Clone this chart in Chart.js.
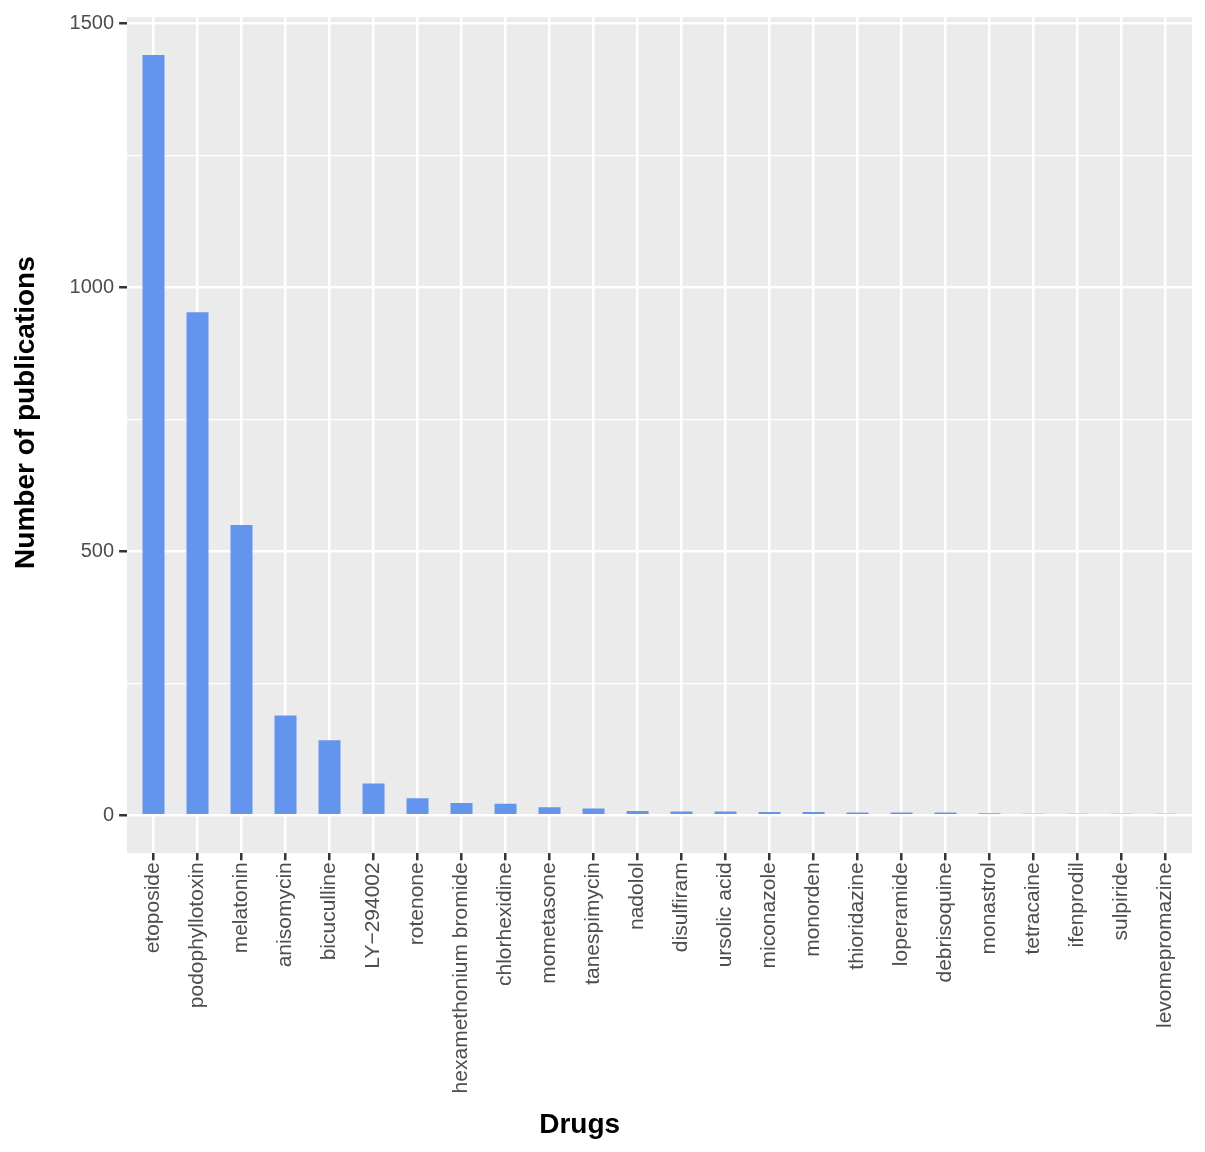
<!DOCTYPE html>
<html>
<head>
<meta charset="utf-8">
<script src="https://cdn.jsdelivr.net/npm/chart.js@4.4.1/dist/chart.umd.min.js"></script>
<style>
  html, body { margin: 0; padding: 0; background: #ffffff; }
  #wrap { width: 1205px; height: 1152px; position: relative; }
</style>
</head>
<body>
<div id="wrap"><canvas id="c"></canvas></div>
<script>
const drugs = ['etoposide', 'podophyllotoxin', 'melatonin', 'anisomycin', 'bicuculline', 'LY\u2212294002',
  'rotenone', 'hexamethonium bromide', 'chlorhexidine', 'mometasone', 'tanespimycin', 'nadolol',
  'disulfiram', 'ursolic acid', 'miconazole', 'monorden', 'thioridazine', 'loperamide', 'debrisoquine',
  'monastrol', 'tetracaine', 'ifenprodil', 'sulpiride', 'levomepromazine'];
const publications = [1440, 953, 550, 189, 142, 60, 32, 23, 22, 15, 13, 8,
  7, 7, 6, 6, 5, 5, 5, 4, 3, 3, 3, 3];
const yMajorTicks = [0, 500, 1000, 1500];
const yMinorTicks = [250, 750, 1250];
const yRange = [-72, 1512];
const xTitle = 'Drugs';
const yTitle = 'Number of publications';

const FONT = 'Liberation Sans, Arial, sans-serif';
const titleFont = { family: FONT, size: 28, weight: 'bold' };

const panelBg = {
  id: 'panelBg',
  beforeDraw(chart) {
    const { ctx, chartArea: a } = chart;
    ctx.save();
    ctx.fillStyle = '#EBEBEB';
    ctx.fillRect(a.left, a.top, a.right - a.left, a.bottom - a.top);
    ctx.restore();
  }
};

// Axis titles drawn in the reserved title space, positioned like the reference
const axisTitles = {
  id: 'axisTitles',
  afterDraw(chart) {
    const { ctx, chartArea: a, scales } = chart;
    ctx.save();
    ctx.fillStyle = '#000000';
    ctx.font = 'bold ' + titleFont.size + 'px ' + FONT;
    ctx.textAlign = 'center';
    ctx.textBaseline = 'middle';
    const xs = scales.x;
    const xTitleY = xs.bottom - titleFont.size * 0.6;
    ctx.fillText(xTitle, a.left + (a.right - a.left) * 0.425, xTitleY);
    const ys = scales.y;
    const yTitleX = ys.left + titleFont.size * 0.6;
    ctx.translate(yTitleX, a.top + (a.bottom - a.top) * 0.473);
    ctx.rotate(-Math.PI / 2);
    ctx.fillText(yTitle, 0, 0);
    ctx.restore();
  }
};

const allY = yMajorTicks.concat(yMinorTicks).sort((a, b) => a - b);

new Chart(document.getElementById('c'), {
  type: 'bar',
  data: {
    datasets: [{
      data: publications.map((v, i) => ({ x: i, y: v })),
      backgroundColor: '#6495ED',
      borderWidth: 0,
      barPercentage: 0.5,
      categoryPercentage: 1.0
    }]
  },
  options: {
    responsive: true,
    maintainAspectRatio: false,
    animation: false,
    layout: { padding: { left: 9, right: 13, top: 6, bottom: 10 } },
    plugins: { legend: { display: false }, tooltip: { enabled: false } },
    scales: {
      x: {
        type: 'linear',
        offset: false,
        min: -0.6,
        max: drugs.length - 1 + 0.6,
        afterBuildTicks(scale) { scale.ticks = drugs.map((d, i) => ({ value: i })); },
        ticks: {
          autoSkip: false,
          minRotation: 90,
          maxRotation: 90,
          padding: 2,
          color: '#4D4D4D',
          font: { family: FONT, size: 21 },
          callback: (v) => drugs[v]
        },
        grid: { offset: false, color: '#FFFFFF', lineWidth: 2.5, tickColor: '#333333', tickLength: 7 },
        border: { display: false },
        title: {
          display: true, text: xTitle, color: 'rgba(0,0,0,0)',
          font: titleFont,
          padding: { top: 13, bottom: 0 }
        }
      },
      y: {
        min: yRange[0],
        max: yRange[1],
        afterBuildTicks(scale) { scale.ticks = allY.map(v => ({ value: v })); },
        ticks: {
          color: '#4D4D4D',
          padding: 5,
          font: { family: FONT, size: 20 },
          callback: (v) => yMajorTicks.includes(v) ? String(v) : ''
        },
        grid: {
          color: '#FFFFFF',
          lineWidth: (c) => yMajorTicks.includes(c.tick && c.tick.value) ? 2.5 : 1.2,
          tickColor: (c) => yMajorTicks.includes(c.tick && c.tick.value) ? '#333333' : 'rgba(0,0,0,0)',
          tickLength: 8
        },
        border: { display: false },
        title: {
          display: true, text: yTitle, color: 'rgba(0,0,0,0)',
          font: titleFont,
          padding: { top: 0, bottom: 22 }
        }
      }
    }
  },
  plugins: [panelBg, axisTitles]
});
</script>
</body>
</html>
